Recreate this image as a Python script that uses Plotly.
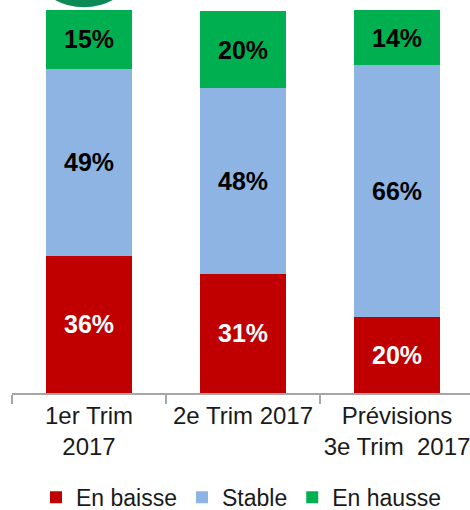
import plotly.graph_objects as go

categories = ["1er Trim<br>2017", "2e Trim 2017", "Prévisions<br>3e Trim\u00a0 2017"]
en_baisse = [35.8, 31.2, 19.8]
stable = [48.8, 48.4, 65.8]
en_hausse = [15.4, 20.1, 14.4]

FONT = "Liberation Sans, Arial, sans-serif"

fig = go.Figure()
series = [
    ("En baisse", en_baisse, "#C00000", "white"),
    ("Stable", stable, "#8EB4E3", "black"),
    ("En hausse", en_hausse, "#00B050", "black"),
]
for name, vals, col, tcol in series:
    fig.add_trace(go.Bar(
        name=name, x=categories, y=vals,
        marker=dict(color=col, line=dict(width=0)),
        text=[f"{v:.0f}%" for v in vals],
        textposition="inside", insidetextanchor="middle",
        textfont=dict(family=FONT, size=25, color=tcol, weight="bold"),
        textangle=0, hoverinfo="skip",
    ))

fig.add_shape(type="circle", xref="paper", yref="paper",
              x0=0.026, x1=0.288, y0=1.005, y1=1.3185,
              fillcolor="#0B8A55", line=dict(color="white", width=1.5),
              layer="above")

fig.update_layout(
    barmode="stack", bargap=0.44,
    width=470, height=510,
    margin=dict(l=12, r=0, t=10, b=117, autoexpand=False),
    plot_bgcolor="white", paper_bgcolor="white",
    font=dict(family=FONT, size=24, color="#1a1a1a"),
    showlegend=True,
    legend=dict(orientation="h", x=0.5, xanchor="center", yref="container",
                y=0.025, yanchor="middle",
                font=dict(size=23, color="#1a1a1a"), itemwidth=30, traceorder="normal",
                tracegroupgap=0),
    uniformtext=dict(minsize=10, mode="show"),
)
fig.update_xaxes(range=[-0.5, 2.474], showline=True, linecolor="#A6A6A6", linewidth=1.5,
                 ticks="outside", tickson="boundaries", ticklen=9, tickcolor="#A6A6A6",
                 tickwidth=1.5, tickfont=dict(size=24, color="#1a1a1a"), showgrid=False,
                 automargin=False)
fig.update_yaxes(range=[0, 100], visible=False, showgrid=False, automargin=False)

fig.write_html("out.html", config={"displayModeBar": False},
               post_script="document.body.style.margin='0';")
